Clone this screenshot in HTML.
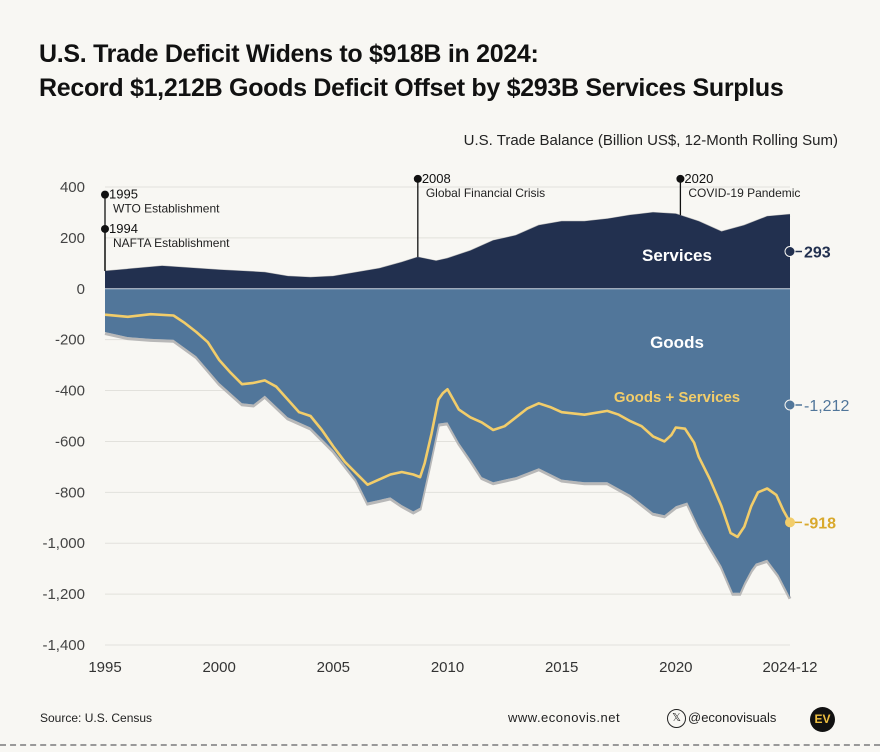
<!DOCTYPE html>
<html><head><meta charset="utf-8">
<style>
body{margin:0;background:#f8f7f3;}
#wrap{position:relative;width:880px;height:752px;background:#f8f7f3;overflow:hidden;font-family:"Liberation Sans",sans-serif;}
.t{position:absolute;white-space:nowrap;}
</style></head><body>
<div id="wrap">
<div class="t" style="left:39px;top:37px;font-size:25px;font-weight:bold;color:#111;line-height:34px;letter-spacing:-0.3px">U.S. Trade Deficit Widens to $918B in 2024:<br>Record $1,212B Goods Deficit Offset by $293B Services Surplus</div>
<div class="t" style="right:42px;top:132px;font-size:15px;color:#222">U.S. Trade Balance (Billion US$, 12-Month Rolling Sum)</div>
<svg id="chart" width="880" height="752" style="position:absolute;left:0;top:0"></svg>
<div class="t" style="left:40px;top:711px;font-size:12px;color:#222">Source: U.S. Census</div>
<div class="t" style="left:508px;top:710px;font-size:13px;color:#222;letter-spacing:0.5px">www.econovis.net</div>
<div class="t" style="left:667px;top:709px;width:17px;height:17px;border:1px solid #222;border-radius:50%;font-size:11px;text-align:center;line-height:17px;color:#222">𝕏</div>
<div class="t" style="left:688px;top:710px;font-size:13px;color:#222">@econovisuals</div>
<div class="t" style="left:810px;top:707px;width:25px;height:25px;border-radius:50%;background:#111;color:#f0c040;font-size:12px;font-weight:bold;text-align:center;line-height:25px">EV</div>
<div class="t" style="left:0;top:744px;width:880px;border-top:2px dashed #999"></div>
</div>
<script>
const svcYears=[1995,1997.5,2000,2002,2003,2004,2005,2006,2007,2008,2008.7,2009.5,2010,2011,2012,2013,2014,2015,2016,2017,2018,2019,2020,2021,2022,2023,2024,2025];
const svcVals=[70,90,75,65,50,45,50,65,80,105,125,110,120,150,190,210,250,265,265,275,290,300,295,265,225,250,285,293];
const goodsYears=[1995,1996,1997,1998,1999,2000,2001,2001.5,2002,2003,2004,2005,2006,2006.5,2007,2007.5,2008,2008.5,2008.8,2009.2,2009.6,2010,2010.5,2011,2011.5,2012,2013,2014,2015,2016,2017,2018,2019,2019.5,2020,2020.5,2021,2021.5,2022,2022.5,2022.8,2023,2023.3,2023.5,2024,2024.5,2025];
const goodsVals=[-170,-190,-197,-200,-265,-370,-450,-455,-420,-505,-545,-635,-750,-840,-830,-820,-850,-875,-860,-700,-530,-525,-605,-670,-740,-760,-740,-705,-750,-760,-760,-810,-880,-890,-855,-840,-935,-1015,-1090,-1195,-1195,-1155,-1105,-1080,-1065,-1125,-1212];
const totYears=[1995,1996,1997,1998,1998.5,1999,1999.5,2000,2000.5,2001,2001.5,2002,2002.5,2003,2003.5,2004,2004.5,2005,2005.5,2006,2006.5,2007,2007.5,2008,2008.5,2008.8,2009,2009.3,2009.6,2009.8,2010,2010.5,2011,2011.5,2012,2012.5,2013,2013.5,2014,2014.5,2015,2016,2017,2017.5,2018,2018.5,2019,2019.5,2019.8,2020,2020.4,2020.8,2021,2021.5,2022,2022.4,2022.7,2023,2023.3,2023.6,2024,2024.4,2024.7,2025];
const totVals=[-102,-110,-100,-105,-135,-170,-210,-280,-330,-375,-370,-360,-385,-435,-485,-500,-555,-620,-680,-725,-770,-750,-730,-720,-730,-740,-685,-570,-435,-410,-395,-475,-505,-525,-555,-540,-505,-470,-450,-465,-485,-495,-480,-495,-520,-540,-580,-600,-575,-545,-550,-605,-660,-750,-855,-960,-975,-935,-855,-800,-785,-810,-870,-918];
const yTicks=[400,200,0,-200,-400,-600,-800,-1000,-1200,-1400];
const yTickLabels=["400","200","0","-200","-400","-600","-800","-1,000","-1,200","-1,400"];
const xTicks=[1995,2000,2005,2010,2015,2020,2025];
const xTickLabels=["1995","2000","2005","2010","2015","2020","2024-12"];
const events=[{year:1995,label:"1995",desc:"WTO Establishment",v:370},{year:1995,label:"1994",desc:"NAFTA Establishment",v:235},{year:2008.7,label:"2008",desc:"Global Financial Crisis",v:432},{year:2020.2,label:"2020",desc:"COVID-19 Pandemic",v:432}];

const svg=document.getElementById('chart');
const NS='http://www.w3.org/2000/svg';
const X0=105,X1=790,Y0=187,Y1=645;
const x=v=>X0+(v-1995)/(2025-1995)*(X1-X0);
const y=v=>Y0+(400-v)/(1800)*(Y1-Y0);
function mk(tag,attrs,parent){const e=document.createElementNS(NS,tag);for(const k in attrs)e.setAttribute(k,attrs[k]);(parent||svg).appendChild(e);return e;}
function interp(ys,vs,t){for(let i=0;i<ys.length-1;i++){if(t>=ys[i]&&t<=ys[i+1]){const f=(t-ys[i])/(ys[i+1]-ys[i]);return vs[i]+f*(vs[i+1]-vs[i]);}}return vs[vs.length-1];}
const pts=(ys,vs)=>ys.map((t,i)=>x(t).toFixed(1)+','+y(vs[i]).toFixed(1));

yTicks.forEach((v,i)=>{
 const g=mk('line',{x1:X0,x2:X1,y1:y(v),y2:y(v),stroke:'#e2e1dc','stroke-width':1});
 
 
 const t=mk('text',{x:85,y:y(v)+5,'text-anchor':'end','font-size':15,fill:'#444','font-family':'Liberation Sans, sans-serif'});
 t.textContent=yTickLabels[i];
 
 
});
xTicks.forEach((v,i)=>{
 const t=mk('text',{x:x(v),y:672,'text-anchor':'middle','font-size':15,fill:'#333','font-family':'Liberation Sans, sans-serif'});
 t.textContent=xTickLabels[i];
 
 
});
// services area
const sp=pts(svcYears,svcVals);
const sh1=mk('polyline',{points:sp.join(' '),fill:'none',stroke:'#b8b8b8','stroke-width':3,transform:'translate(0,1)'});


const sa=mk('polygon',{points:x(1995)+','+y(0)+' '+sp.join(' ')+' '+x(2025)+','+y(0),fill:'#22304f'});


// goods area
const gp=pts(goodsYears,goodsVals);
const sh2=mk('polyline',{points:gp.join(' '),fill:'none',stroke:'#b8b8b8','stroke-width':3,transform:'translate(0,1.5)'});


const ga=mk('polygon',{points:x(1995)+','+y(0)+' '+gp.join(' ')+' '+x(2025)+','+y(0),fill:'#51769a'});


const zl=mk('line',{x1:X0,x2:X1,y1:y(0),y2:y(0),stroke:'#c9d3de','stroke-width':1});


// total line
const tl=mk('polyline',{points:pts(totYears,totVals).join(' '),fill:'none',stroke:'#f2cd6a','stroke-width':2.6,'stroke-linejoin':'round'});


// events
events.forEach(ev=>{
 const ex=x(ev.year);
 const base=interp(svcYears,svcVals,ev.year);
 const l=mk('line',{x1:ex,x2:ex,y1:y(ev.v),y2:y(base),stroke:'#111','stroke-width':1.3});
 
 
 const c=mk('circle',{cx:ex,cy:y(ev.v),r:4,fill:'#111'});
 
 
 const t1=mk('text',{x:ex+4,y:y(ev.v)+4,'font-size':13,fill:'#111','font-family':'Liberation Sans, sans-serif'});
 t1.textContent=ev.label;
 
 
 const t2=mk('text',{x:ex+8,y:y(ev.v)+18,'font-size':12,fill:'#222','font-family':'Liberation Sans, sans-serif'});
 t2.textContent=ev.desc;
 
 
});
// area labels
function lbl(txt,xx,yy,col,size,name){const t=mk('text',{x:xx,y:yy,'text-anchor':'middle','font-size':size,'font-weight':'bold',fill:col,'font-family':'Liberation Sans, sans-serif'});t.textContent=txt;}
lbl('Services',677,261,'#ffffff',17,'services-label');
lbl('Goods',677,348,'#ffffff',17,'goods-label');
lbl('Goods + Services',677,402,'#f2cd6a',15,'total-label');
// end markers
const svcEnd=svcVals[svcVals.length-1],goodsEnd=goodsVals[goodsVals.length-1],totEnd=totVals[totVals.length-1];
const ends=[{v:svcEnd/2,txt:'293',col:'#22304f',name:'services-end-value'},{v:405,txt:'-1,212',col:'#51769a',name:'goods-end-value',px:true},{v:totEnd,txt:'-918',col:'#d9a92c',name:'total-end-value',dot:'#f2cd6a'}];
ends.forEach(e=>{
 const yy=e.px?e.v:y(e.v);
 const l=mk('line',{x1:X1,x2:X1+12,y1:yy,y2:yy,stroke:e.col,'stroke-width':1.5});
 
 
 const c=mk('circle',{cx:X1,cy:yy,r:5,fill:e.dot||e.col,stroke:e.dot?'none':'#f8f7f3','stroke-width':1});
 
 
 const t=mk('text',{x:X1+14,y:yy+6,'font-size':16,'font-weight':e.px?'normal':'bold',fill:e.col,'font-family':'Liberation Sans, sans-serif'});
 t.textContent=e.txt;
 
 
});
</script>
</body></html>
